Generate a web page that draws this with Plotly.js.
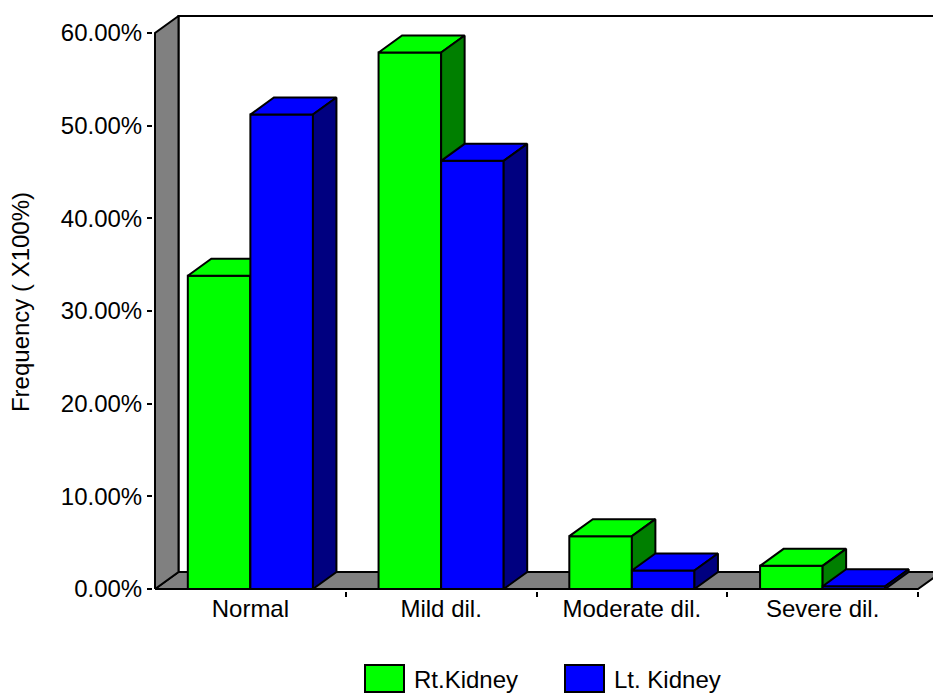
<!DOCTYPE html>
<html>
<head>
<meta charset="utf-8">
<script src="https://cdn.plot.ly/plotly-3.0.1.min.js"></script>
<style>
  html, body { margin: 0; padding: 0; background: #ffffff; }
  #chart { width: 933px; height: 695px; }
</style>
</head>
<body>
<div id="chart"></div>
<script>
// Kidney dilatation grading, share of cases per kidney side (percent)
const categories = ['Normal', 'Mild dil.', 'Moderate dil.', 'Severe dil.'];
const seriesNames = ['Rt.Kidney', 'Lt. Kidney'];
const rtKidney = [33.8, 57.9, 5.7, 2.5];
const ltKidney = [51.2, 46.2, 2.0, 0.3];
const yTickVals = [0, 10, 20, 30, 40, 50, 60];
const yTickText = yTickVals.map(v => v.toFixed(2) + '%');

// Pseudo-3D look: every box gets a receding top and right face
const BAR_W = 0.328;     // bar width in category units
const DEPTH_X = 0.1232;  // receding shift along x (category units)
const DEPTH_Y = 1.834;   // receding shift along y (percent units)
const Y_MAX = 60;

const FONT = 'Liberation Sans, Arial, Helvetica, sans-serif';

// Build the three visible faces of every box in a series
function boxFaces(values, offset) {
  const front = { x: [], y: [] }, top = { x: [], y: [] }, side = { x: [], y: [] };
  values.forEach((v, i) => {
    const x0 = i + offset, x1 = x0 + BAR_W;
    front.x.push(x0, x1, x1, x0, x0, null);
    front.y.push(0, 0, v, v, 0, null);
    top.x.push(x0, x1, x1 + DEPTH_X, x0 + DEPTH_X, x0, null);
    top.y.push(v, v, v + DEPTH_Y, v + DEPTH_Y, v, null);
    side.x.push(x1, x1 + DEPTH_X, x1 + DEPTH_X, x1, x1, null);
    side.y.push(0, DEPTH_Y, v + DEPTH_Y, v, 0, null);
  });
  return { front, top, side };
}

function poly(pts, fill, xaxis) {
  return {
    type: 'scatter', mode: 'lines', x: pts.x, y: pts.y,
    xaxis: xaxis, yaxis: 'y',
    fill: 'toself', fillcolor: fill,
    line: { color: '#000000', width: 2 },
    hoverinfo: 'skip', showlegend: false
  };
}

const xLeft = -0.5, xRight = categories.length - 0.5;
const X_RANGE = [-0.51049, 3.5786];
const Y_RANGE = [-0.2158, 62.156];

// Floor, left wall and the outline of the back wall
const floor = {
  x: [xLeft, xRight, xRight + DEPTH_X, xLeft + DEPTH_X, xLeft],
  y: [0, 0, DEPTH_Y, DEPTH_Y, 0]
};
const wall = {
  x: [xLeft, xLeft + DEPTH_X, xLeft + DEPTH_X, xLeft, xLeft],
  y: [0, DEPTH_Y, Y_MAX + DEPTH_Y, Y_MAX, 0]
};
const backEdge = {
  type: 'scatter', mode: 'lines',
  x: [xLeft + DEPTH_X, xLeft + DEPTH_X, xRight + DEPTH_X],
  y: [DEPTH_Y, Y_MAX + DEPTH_Y, Y_MAX + DEPTH_Y],
  xaxis: 'x', yaxis: 'y',
  line: { color: '#000000', width: 2 },
  hoverinfo: 'skip', showlegend: false
};

const rt = boxFaces(rtKidney, -BAR_W);
const lt = boxFaces(ltKidney, 0);

const traces = [
  backEdge,
  poly(floor, '#808080', 'x'),
  poly(wall, '#808080', 'x'),
  poly(rt.front, '#00ff00', 'x2'),
  poly(rt.top, '#00ff00', 'x2'),
  poly(rt.side, '#007f00', 'x2'),
  poly(lt.front, '#0000ff', 'x2'),
  poly(lt.top, '#0000ff', 'x2'),
  poly(lt.side, '#000080', 'x2')
];

// Legend drawn as boxes plus labels under the chart
const seriesColors = ['#00ff00', '#0000ff'];
const PLOT_L = 153, PLOT_W = 780, PLOT_B = 591, PLOT_H = 578;
const px2x = px => (px - PLOT_L) / PLOT_W;
const px2y = py => (PLOT_B - py) / PLOT_H;
const legendLeft = [365, 565];
const shapes = [], annotations = [];
seriesNames.forEach((name, k) => {
  const l = legendLeft[k];
  shapes.push({
    type: 'rect', xref: 'paper', yref: 'paper',
    x0: px2x(l), x1: px2x(l + 39), y0: px2y(692), y1: px2y(665),
    fillcolor: seriesColors[k], line: { color: '#000000', width: 2 }
  });
  annotations.push({
    xref: 'paper', yref: 'paper', x: px2x(l + 47), y: px2y(679),
    xanchor: 'left', yanchor: 'middle', showarrow: false,
    text: name, font: { family: FONT, size: 24, color: '#000000' }
  });
});

const layout = {
  width: 933, height: 695,
  margin: { l: PLOT_L, r: 0, t: 13, b: 104 },
  paper_bgcolor: '#ffffff', plot_bgcolor: '#ffffff',
  font: { family: FONT, size: 24, color: '#000000' },
  showlegend: false,
  xaxis: {
    range: X_RANGE, fixedrange: true,
    tickmode: 'array', tickvals: [0.5, 1.5, 2.5, 3.5],
    showticklabels: false,
    ticks: 'outside', ticklen: 5, tickwidth: 2, tickcolor: '#000000',
    showgrid: false, zeroline: false, showline: false
  },
  xaxis2: {
    overlaying: 'x', anchor: 'y', side: 'bottom',
    range: X_RANGE, fixedrange: true,
    tickmode: 'array', tickvals: categories.map((c, i) => i), ticktext: categories,
    ticks: '', ticklabelstandoff: 1,
    tickfont: { family: FONT, size: 24, color: '#000000' },
    showgrid: false, zeroline: false, showline: false
  },
  yaxis: {
    range: Y_RANGE, fixedrange: true,
    tickmode: 'array', tickvals: yTickVals, ticktext: yTickText,
    ticks: 'outside', ticklen: 5, tickwidth: 2, tickcolor: '#000000',
    tickfont: { family: FONT, size: 24, color: '#000000' },
    showgrid: false, zeroline: false, showline: false,
    title: { text: 'Frequency ( X100%)', standoff: 24,
             font: { family: FONT, size: 24, color: '#000000' } }
  },
  shapes: shapes,
  annotations: annotations
};

Plotly.newPlot('chart', traces, layout, { displayModeBar: false, staticPlot: true });
</script>
</body>
</html>
